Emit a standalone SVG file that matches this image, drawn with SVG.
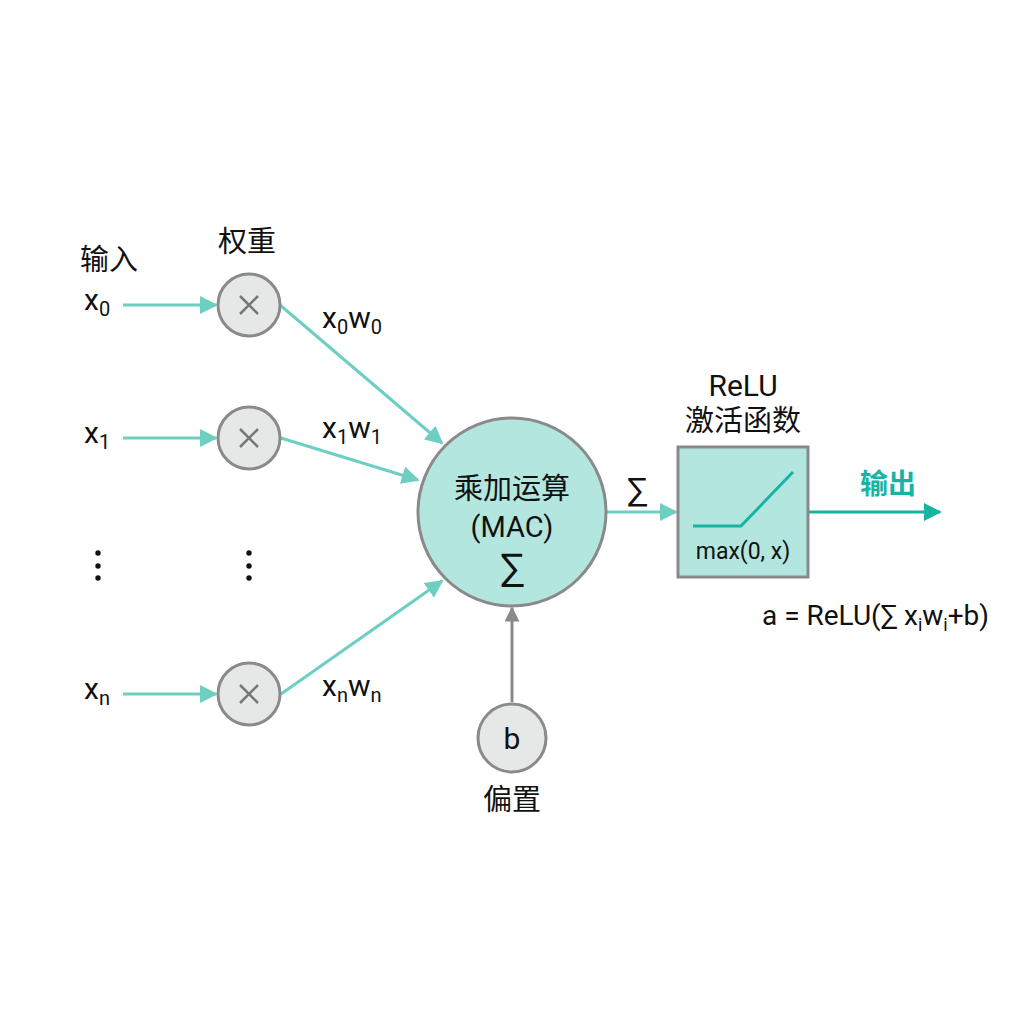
<svg xmlns="http://www.w3.org/2000/svg" width="1024" height="1024" viewBox="0 0 1024 1024">
<style>
text{font-family:Roboto,"Noto Sans","Noto Sans CJK SC",sans-serif;fill:#111}
.lbl{font-size:30px}
.cjk{font-size:29px}
.sub{font-size:20px}
.mul{fill:#e6e8e8;stroke:#8a8a8a;stroke-width:3}
.tl{stroke:#6ccfc2;stroke-width:3;fill:none}
.dot{fill:#111}
</style>
<defs>
<marker id="ah" viewBox="0 0 10 10" refX="9" refY="5" markerWidth="6" markerHeight="6" orient="auto" markerUnits="strokeWidth"><path d="M0,0L10,5L0,10z" fill="#6ccfc2"/></marker>
<marker id="ahg" viewBox="0 0 10 10" refX="9" refY="5" markerWidth="5" markerHeight="5" orient="auto" markerUnits="strokeWidth"><path d="M0,0L10,5L0,10z" fill="#8a8a8a"/></marker>
<marker id="ahd" viewBox="0 0 10 10" refX="9" refY="5" markerWidth="6" markerHeight="6" orient="auto" markerUnits="strokeWidth"><path d="M0,0L10,5L0,10z" fill="#17b3a3"/></marker>
</defs>
<rect width="1024" height="1024" fill="#fff"/>
<g id="connectors">
<line class="tl" x1="123" y1="305" x2="216" y2="305" marker-end="url(#ah)"/>
<line class="tl" x1="123" y1="438" x2="216" y2="438" marker-end="url(#ah)"/>
<line class="tl" x1="123" y1="694" x2="216" y2="694" marker-end="url(#ah)"/>
<line class="tl" x1="280" y1="305" x2="442" y2="443" marker-end="url(#ah)"/>
<line class="tl" x1="281" y1="438" x2="418" y2="480" marker-end="url(#ah)"/>
<line class="tl" x1="281" y1="694" x2="442" y2="581" marker-end="url(#ah)"/>
<line class="tl" x1="607" y1="512" x2="676" y2="512" marker-end="url(#ah)"/>
<line x1="512" y1="702" x2="512" y2="608" stroke="#8a8a8a" stroke-width="3" marker-end="url(#ahg)"/>
<line x1="809" y1="512" x2="940" y2="512" stroke="#17b3a3" stroke-width="3" marker-end="url(#ahd)"/>
</g>
<g id="labels">
<text class="cjk" x="80" y="270">输入</text>
<text class="cjk" x="218" y="252">权重</text>
<text class="lbl" x="84" y="310">x<tspan class="sub" dy="6">0</tspan></text>
<text class="lbl" x="84" y="443">x<tspan class="sub" dy="6">1</tspan></text>
<text class="lbl" x="84" y="699">x<tspan class="sub" dy="6">n</tspan></text>
<text class="lbl" x="322" y="328">x<tspan class="sub" dy="6">0</tspan><tspan dy="-6">w</tspan><tspan class="sub" dy="6">0</tspan></text>
<text class="lbl" x="322" y="438">x<tspan class="sub" dy="6">1</tspan><tspan dy="-6">w</tspan><tspan class="sub" dy="6">1</tspan></text>
<text class="lbl" x="322" y="696">x<tspan class="sub" dy="6">n</tspan><tspan dy="-6">w</tspan><tspan class="sub" dy="6">n</tspan></text>
<circle class="dot" cx="98" cy="553" r="2.7"/><circle class="dot" cx="98" cy="566" r="2.7"/><circle class="dot" cx="98" cy="578" r="2.7"/>
<circle class="dot" cx="249" cy="553" r="2.7"/><circle class="dot" cx="249" cy="566" r="2.7"/><circle class="dot" cx="249" cy="578" r="2.7"/>
<text x="637" y="502" text-anchor="middle" font-size="34">∑</text>
<text x="888" y="494" text-anchor="middle" font-size="28" font-weight="bold" style="fill:#17b3a3">输出</text>
<text x="762" y="625" font-size="28">a = ReLU(∑ x<tspan font-size="18" dy="6">i</tspan><tspan dy="-6">w</tspan><tspan font-size="18" dy="6">i</tspan><tspan dy="-6">+b)</tspan></text>
</g>
<g id="mul0"><circle class="mul" cx="249" cy="305" r="31"/><path d="M240,296L258,314M258,296L240,314" stroke="#777" stroke-width="2.5"/></g>
<g id="mul1"><circle class="mul" cx="249" cy="438" r="31"/><path d="M240,429L258,447M258,429L240,447" stroke="#777" stroke-width="2.5"/></g>
<g id="muln"><circle class="mul" cx="249" cy="694" r="31"/><path d="M240,685L258,703M258,685L240,703" stroke="#777" stroke-width="2.5"/></g>
<g id="mac">
<circle cx="512" cy="512" r="94" fill="#b2e6df" stroke="#8a8a8a" stroke-width="3"/>
<text x="512" y="499" text-anchor="middle" font-size="29">乘加运算</text>
<text x="512" y="537" text-anchor="middle" font-size="29">(MAC)</text>
<text x="512" y="582" text-anchor="middle" font-size="40">∑</text>
</g>
<g id="bias">
<circle class="mul" cx="512" cy="738" r="34"/>
<text x="512" y="749" text-anchor="middle" font-size="30">b</text>
<text class="cjk" x="512" y="810" text-anchor="middle">偏置</text>
</g>
<g id="relu">
<text x="743" y="396" text-anchor="middle" font-size="30">ReLU</text>
<text class="cjk" x="743" y="431" text-anchor="middle">激活函数</text>
<rect x="678" y="447" width="130" height="130" fill="#b2e6df" stroke="#8a8a8a" stroke-width="3"/>
<polyline points="693,526 741,526 793,472" fill="none" stroke="#17b3a3" stroke-width="3"/>
<text x="743" y="559" text-anchor="middle" font-size="23">max(0, x)</text>
</g>
</svg>
